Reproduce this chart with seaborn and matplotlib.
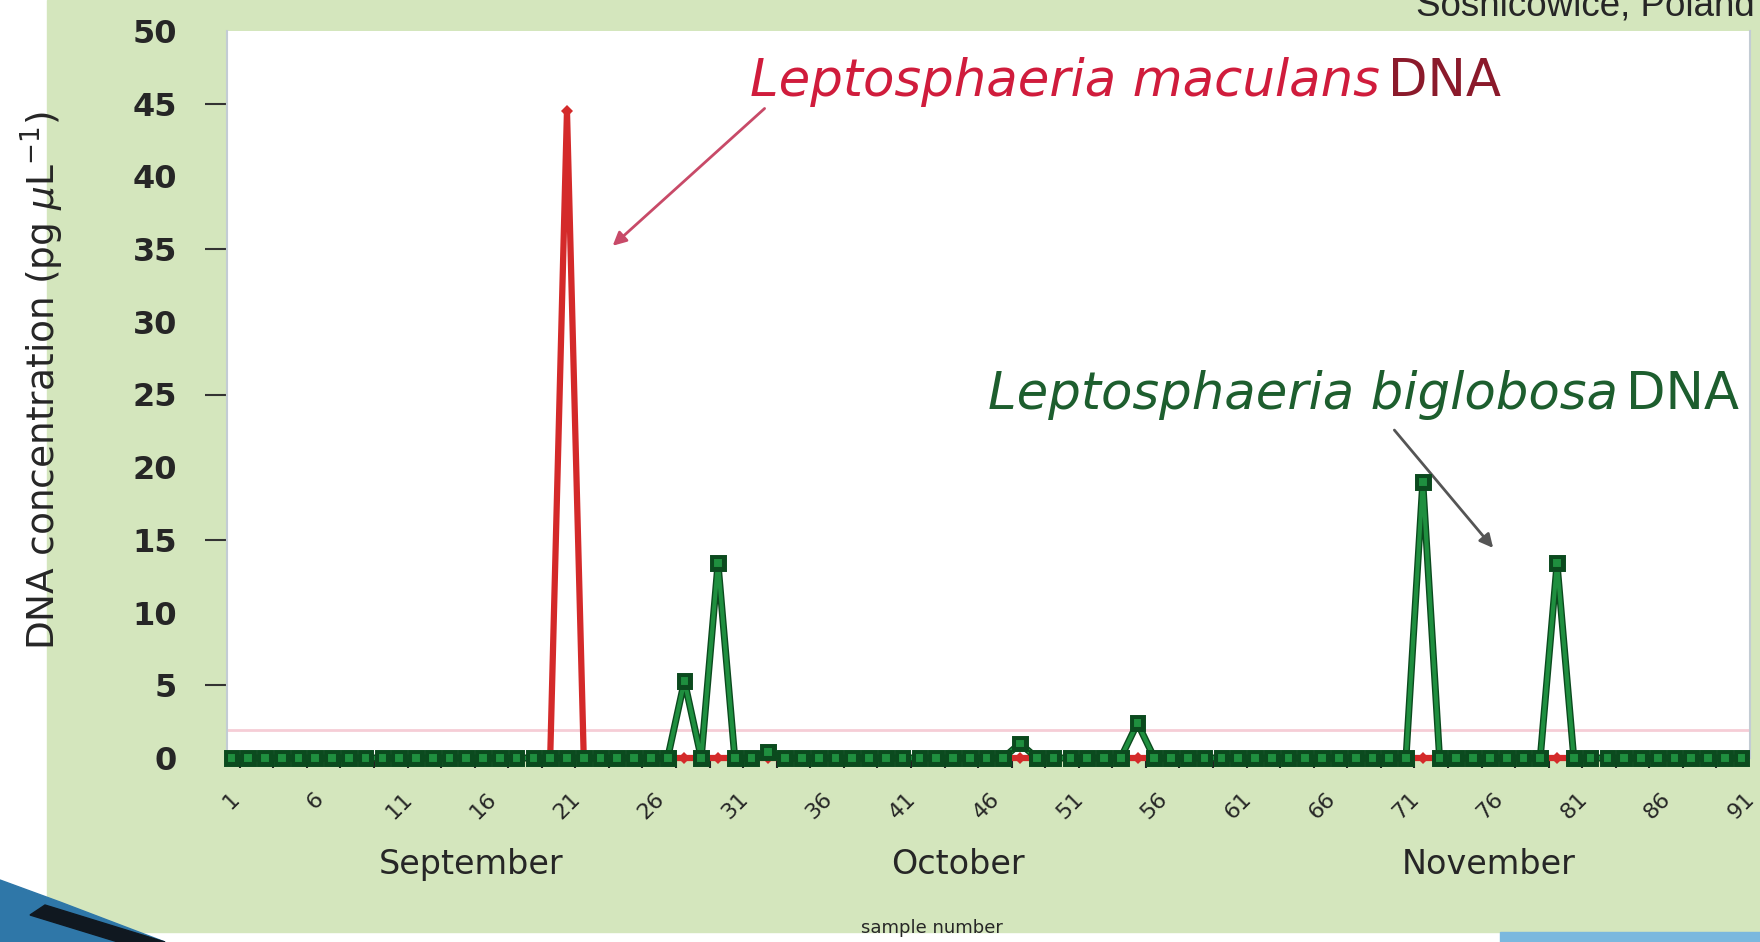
import numpy as np
import pandas as pd
import matplotlib
matplotlib.use("Agg")
import matplotlib.pyplot as plt
import matplotlib.patheffects as pe
from matplotlib.patches import Rectangle, Polygon
from matplotlib.ticker import FixedLocator
import seaborn as sns

# samples (one per day, September - November)
samples = list(range(1, 92))
tick_samples = list(range(1, 92, 5))
y_ticks = list(range(0, 51, 5))
y_minor = [5, 15, 25, 35, 45]

# non-zero readings only, every other sample reads 0
maculans_samples = [21]
maculans_values = [44.5]
biglobosa_samples = [28, 30, 33, 48, 55, 72, 80]
biglobosa_values = [5.3, 13.4, 0.4, 1.0, 2.4, 19.0, 13.4]

months = ["September", "October", "November"]
month_centres = [15.3, 44.3, 75.9]

W, H = 1760, 942
GREEN_BG = "#d4e6bd"


def full_series(idx, vals):
    lookup = dict(zip(idx, vals))
    return [lookup.get(s, 0.0) for s in samples]


df = pd.DataFrame({
    "sample": samples,
    "maculans": full_series(maculans_samples, maculans_values),
    "biglobosa": full_series(biglobosa_samples, biglobosa_values),
})

sns.set_style("white")
plt.rcParams["font.family"] = ["DejaVu Sans"]

fig = plt.figure(figsize=(W / 100, H / 100), dpi=100)
fig.patch.set_facecolor("white")

# slide decoration
fig.add_artist(Rectangle((47 / W, 1 - 932 / H), 1 - 47 / W, 932 / H,
                         transform=fig.transFigure, color=GREEN_BG, zorder=0))
fig.add_artist(Rectangle((1500 / W, 0), 1 - 1500 / W, 10 / H,
                         transform=fig.transFigure, color="#7ab8de", zorder=0))
fig.add_artist(Polygon([(0, 1 - 880 / H), (60 / W, 1 - 902 / H), (165 / W, 0), (0, 0)],
                       closed=True, transform=fig.transFigure, color="#2f77a8", zorder=1))
fig.add_artist(Polygon([(45 / W, 1 - 905 / H), (165 / W, 0), (118 / W, 0), (30 / W, 1 - 915 / H)],
                       closed=True, transform=fig.transFigure, color="#101820", zorder=1))

ax = fig.add_axes([227 / W, 1 - 758 / H, (1750 - 227) / W, (758 - 31) / H])
ax.set_facecolor("white")

ax.axhline(1.9, color="#f6cdd6", lw=2, zorder=1)

sns.lineplot(data=df, x="sample", y="maculans", ax=ax, color="#d42a2a", lw=4.5,
             marker="D", markersize=6, markeredgewidth=0, clip_on=False, zorder=3)
sns.lineplot(data=df, x="sample", y="biglobosa", ax=ax, color="#1f8f3f", lw=3,
             marker="s", markersize=7, markerfacecolor="#1f8f3f", markeredgecolor="#0b4a1e",
             markeredgewidth=1.5, clip_on=False, zorder=4,
             path_effects=[pe.Stroke(linewidth=5, foreground="#0b4a1e"), pe.Normal()])

ax.set_xlim(0.74, 91.5)
ax.set_ylim(0, 50)
ax.set_xlabel("")
ax.set_ylabel("")

for side in ["top", "bottom"]:
    ax.spines[side].set_visible(False)
for side in ["left", "right"]:
    ax.spines[side].set_color("#c3ccd4")
    ax.spines[side].set_linewidth(1.5)

ax.set_yticks(y_ticks)
ax.yaxis.remove_overlapping_locs = False
ax.yaxis.set_minor_locator(FixedLocator(y_minor))
ax.tick_params(axis="y", which="major", length=0, pad=36, labelsize=23)
ax.tick_params(axis="y", which="minor", length=16, width=1.5, color="#333333", left=True)
plt.setp(ax.get_yticklabels(), fontweight="bold")

ax.set_xticks(tick_samples)
ax.xaxis.set_minor_locator(FixedLocator([s + 0.5 for s in samples[::2] if s < 91]))
ax.tick_params(axis="x", which="major", length=0, pad=22, labelsize=16, labelrotation=45)
ax.tick_params(axis="x", which="minor", length=7, width=1.5, color="#222222", bottom=True)

# month names under the tick labels
for name, c in zip(months, month_centres):
    ax.text(c, -0.146, name, transform=ax.get_xaxis_transform(),
            ha="center", va="center", fontsize=24)

fig.text(42 / W, 1 - 381 / H, r"DNA concentration (pg $\mu$L$^{-1}$)",
         rotation=90, ha="center", va="center", fontsize=27)
fig.text(932 / W, 1 - 928 / H, "sample number", ha="center", va="center", fontsize=13)
fig.text(1755 / W, 1 - 15 / H, "Sosnicowice, Poland", ha="right", va="baseline",
         fontsize=26.5, family=["Liberation Sans", "DejaVu Sans"])

# species labels with arrows
t1 = ax.text(31.9, 45.5, "Leptosphaeria maculans", style="italic",
             color="#d01c3c", fontsize=37, va="baseline")
ax.annotate("DNA", xy=(1, 0), xycoords=t1, xytext=(6, 0), textcoords="offset points",
            color="#8b1a2b", fontsize=37, va="bottom")
ax.annotate("", xy=(23.6, 35.1), xytext=(32.9, 44.8),
            arrowprops=dict(arrowstyle="-|>", color="#c84a68", lw=2, mutation_scale=20))

t2 = ax.text(46.1, 24.0, "Leptosphaeria biglobosa", style="italic",
             color="#1d5e2e", fontsize=37, va="baseline")
ax.annotate("DNA", xy=(1, 0), xycoords=t2, xytext=(6, 0), textcoords="offset points",
            color="#1d5e2e", fontsize=37, va="bottom")
ax.annotate("", xy=(76.3, 14.3), xytext=(70.2, 22.7),
            arrowprops=dict(arrowstyle="-|>", color="#555555", lw=2, mutation_scale=20))

fig.savefig("out.png", dpi=100, facecolor=fig.get_facecolor())
